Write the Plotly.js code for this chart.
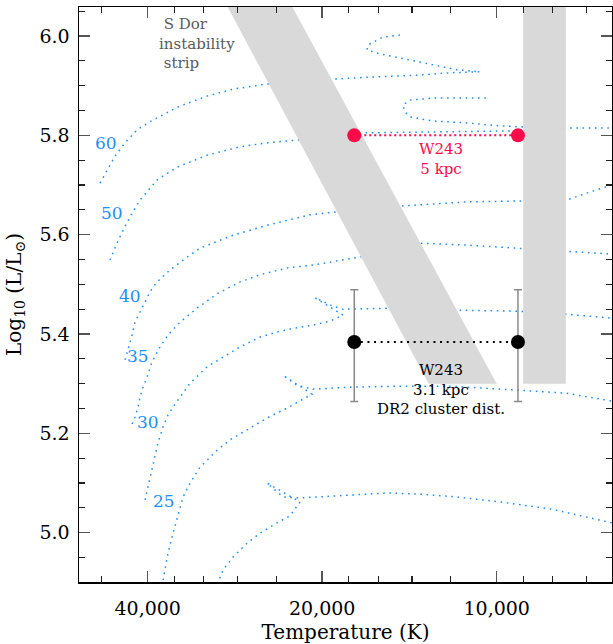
<!DOCTYPE html>
<html>
<head>
<meta charset="utf-8">
<script src="https://cdn.plot.ly/plotly-3.0.1.min.js"></script>
<style>html,body{margin:0;padding:0;background:#fff;}</style>
</head>
<body>
<div id="chart" style="width:613px;height:644px;"></div>
<script>
// ---- Evolutionary tracks (Teff in K, log L/Lsun); null breaks a line ----
const T60 = [48340,47020,45550,43770,41740,39170,35180,31600,28500,25100,21840,19240,16740,13730,12040,10690,11710,12880,14280,15900,16740,16670,15710,14690];
const L60 = [5.704,5.730,5.758,5.785,5.811,5.831,5.859,5.879,5.893,5.903,5.909,5.913,5.917,5.921,5.926,5.928,5.932,5.942,5.952,5.964,5.972,5.982,5.998,6.002];

const T50 = [46460,45190,43950,42910,41240,38550,35600,31600,27720,24900,21840,16870,14690,12040,9373,9008,7565,6326,null,9008,9871,11250,12880,14110,14400,14510,14110,12880,11250,10270];
const L50 = [5.549,5.583,5.613,5.636,5.670,5.710,5.736,5.760,5.777,5.785,5.791,5.805,5.806,5.807,5.809,5.811,5.815,5.815,null,5.817,5.819,5.825,5.829,5.837,5.847,5.861,5.871,5.875,5.875,5.875];

const T40 = [43770,43080,42570,42070,41240,40430,39640,38550,36610,33810,32490,28500,24900,20990,18860,14570,11250,9008,7476,6903,6326];
const L40 = [5.348,5.374,5.398,5.424,5.444,5.464,5.485,5.505,5.529,5.559,5.573,5.599,5.619,5.640,5.646,5.658,5.666,5.668,5.672,5.686,5.700];

const T35 = [42570,42070,41570,41240,40750,40110,39320,38090,36900,35180,32880,30370,27720,25300,23000,20740,17210,13560,11250,9225,7565,6326];
const L35 = [5.219,5.233,5.253,5.273,5.293,5.313,5.344,5.374,5.398,5.424,5.452,5.481,5.505,5.521,5.533,5.539,5.555,5.583,5.579,5.573,5.567,5.561];

const T30 = [40430,39950,39320,38860,38400,37640,36900,35880,33810,31600,29650,27720,25600,23930,22730,20740,19390,18410,20580,19160,18410,15280,11710,9188,7595,6326];
const L30 = [5.066,5.092,5.126,5.152,5.181,5.213,5.237,5.259,5.301,5.334,5.354,5.374,5.394,5.404,5.410,5.418,5.426,5.438,5.473,5.456,5.450,5.452,5.448,5.446,5.440,5.432];

const T25 = [37950,37340,36900,36170,35460,34760,33810,32490,30370,28840,26960,24900,23000,21840,20830,23370,22110,20740,17910,14690,12040,9188,7595,6326];
const L25 = [4.880,4.931,4.959,4.999,5.036,5.072,5.100,5.132,5.166,5.187,5.207,5.231,5.251,5.265,5.279,5.317,5.297,5.289,5.293,5.295,5.295,5.287,5.281,5.265];

const T20 = [30610,29650,28500,26960,25600,23930,22730,21840,24900,23370,21840,20420,18410,15460,13730,11710,9871,8094,6326];
const L20 = [4.885,4.925,4.951,4.979,4.999,5.020,5.034,5.062,5.100,5.072,5.070,5.072,5.076,5.080,5.078,5.072,5.062,5.048,5.020];

// ---- S Dor instability strip regions ----
const stripHotT = [30420,23540,10000,13100];
const stripHotL = [6.10,6.10,5.30,5.30];
const stripCoolT = [9000,7600,7600,9000];
const stripCoolL = [6.10,6.10,5.30,5.30];

// ---- W243 ----
const w243T = [17610,9190];
const w243L5kpc = [5.80,5.80];
const w243L31kpc = [5.384,5.384];
const w243ErrUp = [0.105,0.105];
const w243ErrDown = [0.12,0.12];

// ---- Track mass labels ----
const massLabels = ['60','50','40','35','30','25'];
const massLabelT = [47300,46100,42910,41570,39900,37560];
const massLabelL = [5.784,5.643,5.477,5.355,5.223,5.064];

// ---- Tick labels ----
const xTickVals = [40000,20000,10000];
const xTickText = ['40,000','20,000','10,000'];
const xMinorVals = [48000,36000,32000,28000,24000,18000,16000,14000,12000,9000,8000,7000];

const BLUE = '#1e8ff5';
const RED = '#ff0a4a';
const FONT = 'DejaVu Serif';

function track(T, L){
  return {x:T, y:L, type:'scatter', mode:'lines', connectgaps:false,
    line:{color:BLUE, width:1.5, dash:'1.6px,4.6px'}, hoverinfo:'skip'};
}
const traces = [
  track(T60,L60), track(T50,L50), track(T40,L40), track(T35,L35),
  track(T30,L30), track(T25,L25), track(T20,L20),
  {x:stripHotT, y:stripHotL, type:'scatter', mode:'lines', fill:'toself',
   fillcolor:'#d9d9d9', line:{width:0, color:'#d9d9d9'}, hoverinfo:'skip'},
  {x:stripCoolT, y:stripCoolL, type:'scatter', mode:'lines', fill:'toself',
   fillcolor:'#d9d9d9', line:{width:0, color:'#d9d9d9'}, hoverinfo:'skip'},
  {x:w243T, y:w243L5kpc, type:'scatter', mode:'lines+markers',
   line:{color:RED, width:2, dash:'2px,3px'}, marker:{color:RED, size:14}, hoverinfo:'skip'},
  {x:w243T, y:w243L31kpc, type:'scatter', mode:'lines+markers',
   line:{color:'#000', width:2, dash:'2px,4.6px'}, marker:{color:'#000', size:14},
   error_y:{type:'data', symmetric:false, array:w243ErrUp, arrayminus:w243ErrDown,
            color:'#8a8a8a', thickness:1.5, width:4}, hoverinfo:'skip'}
];

const lg = Math.log10;
const annotations = [];
massLabels.forEach((t,i)=>annotations.push({x:lg(massLabelT[i]), y:massLabelL[i], xref:'x', yref:'y',
  text:t, showarrow:false, font:{family:FONT, size:17, color:BLUE}, xanchor:'center', yanchor:'middle'}));
function addText(txt, T, L, color, anchor, align, size){
  annotations.push({x:lg(T), y:L, xref:'x', yref:'y', text:txt, showarrow:false, align:align,
    font:{family:FONT, size:size, color:color}, xanchor:anchor, yanchor:'middle'});
}
addText('\u00a0S Dor<br>instability<br>\u00a0strip', 38550, 5.985, '#5a5a5a', 'left', 'left', 15);
addText('W243<br>5 kpc', 12480, 5.752, RED, 'center', 'center', 15);
addText('W243<br>3.1 kpc<br>DR2 cluster dist.', 12480, 5.289, '#000', 'center', 'center', 15);

const layout = {
  width:613, height:644,
  margin:{l:79, r:1, t:7, b:62},
  paper_bgcolor:'#fff', plot_bgcolor:'#fff',
  showlegend:false,
  font:{family:FONT, color:'#000'},
  xaxis:{type:'log', range:[4.7206,3.8011], autorange:false,
    tickmode:'array', tickvals:xTickVals, ticktext:xTickText,
    ticks:'inside', ticklen:11, tickwidth:1.5, tickcolor:'#555',
    minor:{tickmode:'array', tickvals:xMinorVals, ticks:'inside', ticklen:6, tickwidth:1.2, tickcolor:'#222'},
    showline:true, linecolor:'#000', linewidth:1.5, mirror:'allticks',
    showgrid:false, zeroline:false,
    tickfont:{family:FONT, size:19, color:'#000'}, ticklabelstandoff:9,
    title:{text:'Temperature (K)', font:{family:FONT, size:20, color:'#000'}, standoff:7}},
  yaxis:{range:[4.9008,6.0584], autorange:false,
    tickmode:'linear', tick0:5.0, dtick:0.2, tickformat:'.1f',
    ticks:'inside', ticklen:11, tickwidth:1.5, tickcolor:'#555',
    minor:{tick0:5.0, dtick:0.05, ticks:'inside', ticklen:6, tickwidth:1.2, tickcolor:'#222'},
    showline:true, linecolor:'#000', linewidth:1.5, mirror:'allticks',
    showgrid:false, zeroline:false,
    tickfont:{family:FONT, size:19, color:'#000'}, ticklabelstandoff:4,
    title:{text:'Log<sub>10</sub> (L/L<sub>⊙</sub>)', font:{family:FONT, size:20, color:'#000'}, standoff:12}},
  annotations:annotations
};

Plotly.newPlot('chart', traces, layout, {staticPlot:true, displayModeBar:false});
</script>
</body>
</html>
